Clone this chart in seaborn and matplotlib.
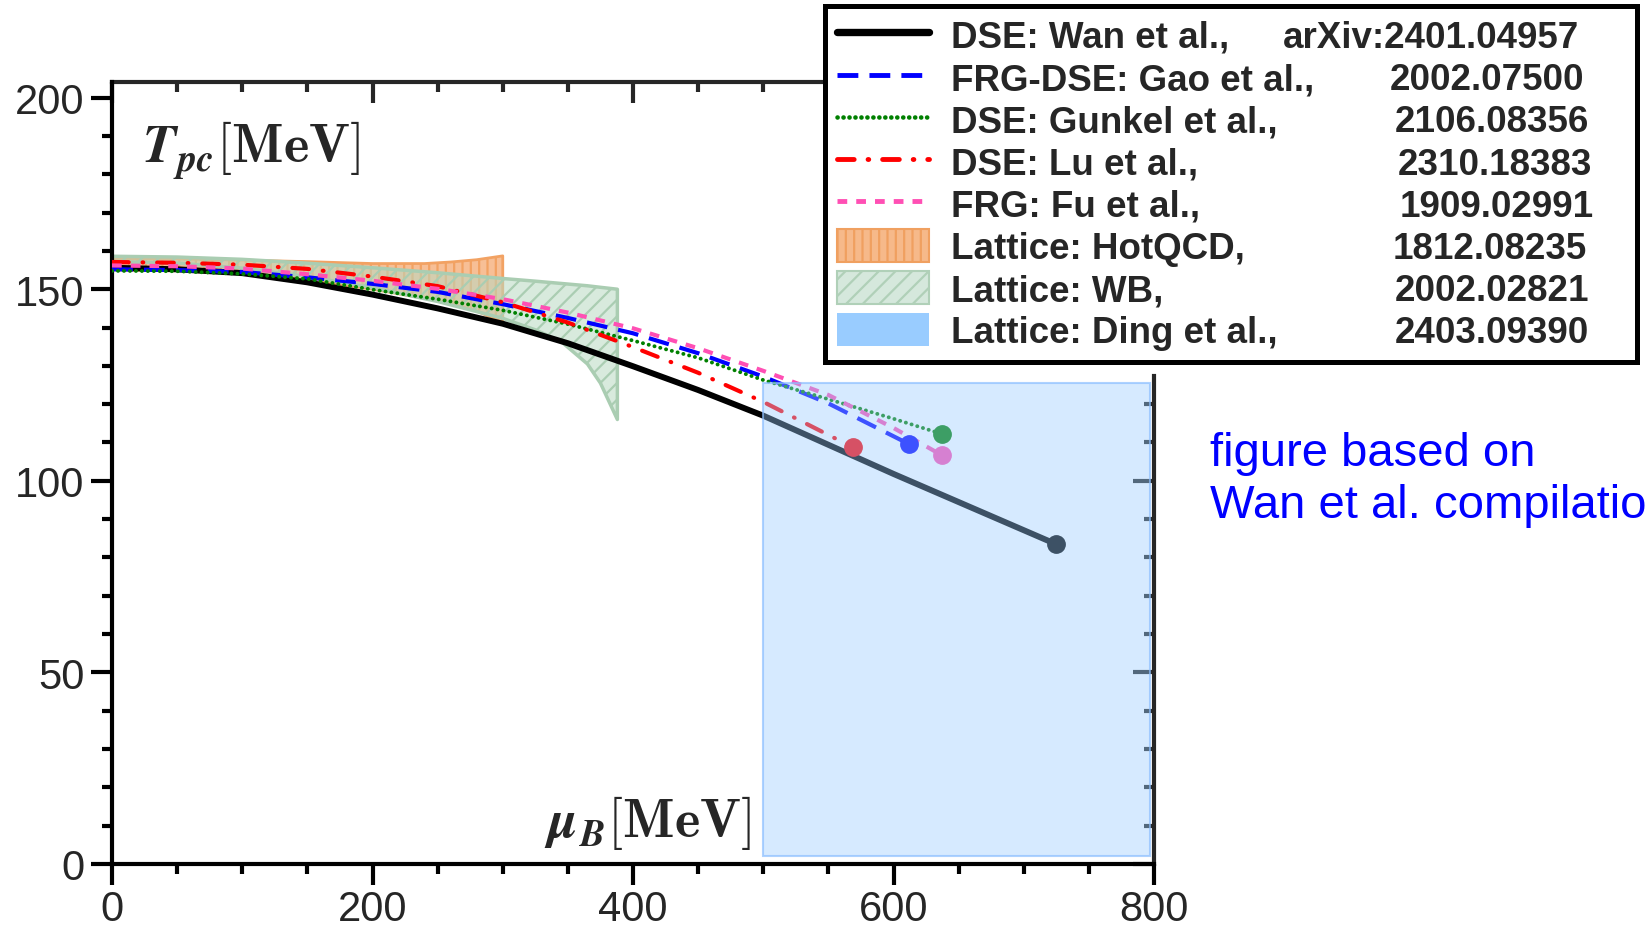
import numpy as np
import pandas as pd
import matplotlib
matplotlib.use("Agg")
import matplotlib.pyplot as plt
import seaborn as sns
from matplotlib.patches import Patch, Rectangle
from matplotlib.lines import Line2D
from matplotlib.ticker import MultipleLocator, FixedLocator
from matplotlib.font_manager import FontProperties

# ---------------- data ----------------
mu_wan = [0, 50, 100, 150, 200, 250, 300, 350, 400, 450, 500, 600, 724.6]
T_wan = [155.6, 155.2, 154.2, 151.8, 148.6, 145.0, 141.0, 135.9, 129.9, 123.7, 117.0, 101.8, 83.5]

mu_gao = [0, 50, 100, 150, 200, 250, 300, 350, 400, 450, 500, 550, 611.8]
T_gao = [155.2, 155.0, 154.5, 153.1, 151.4, 149.3, 146.1, 142.5, 138.5, 133.3, 127.2, 120.2, 109.6]

mu_gunkel = [0, 50, 100, 150, 200, 250, 300, 350, 400, 450, 500, 550, 600, 637.4]
T_gunkel = [154.8, 154.7, 154.0, 152.7, 149.9, 147.4, 144.5, 140.9, 136.6, 132.1, 126.3, 121.3, 116.2, 112.2]

mu_lu = [0, 50, 100, 150, 200, 250, 300, 350, 400, 450, 500, 569]
T_lu = [157.1, 156.9, 156.4, 155.3, 153.3, 150.8, 146.6, 141.3, 134.9, 128.2, 120.6, 108.7]

mu_fu = [0, 50, 100, 150, 200, 250, 300, 350, 400, 450, 500, 550, 600, 637]
T_fu = [156.2, 156.0, 155.4, 153.9, 152.2, 150.1, 147.4, 143.9, 139.8, 134.6, 128.7, 122.4, 113.8, 106.7]

mu_hot = [0, 50, 100, 150, 200, 240, 260, 280, 300]
hot_hi = [158.0, 157.9, 157.6, 157.2, 156.7, 156.7, 157.1, 157.7, 158.7]
hot_lo = [155.0, 154.8, 154.0, 152.4, 150.0, 147.6, 146.3, 144.3, 141.3]

mu_wb = [0, 50, 100, 150, 200, 250, 300, 325, 345, 365, 375, 388]
wb_hi = [158.6, 158.4, 157.8, 156.8, 155.6, 154.3, 152.8, 152.1, 151.5, 150.9, 150.5, 150.0]
wb_lo = [157.2, 156.8, 155.5, 153.3, 150.4, 146.8, 142.4, 139.4, 136.3, 130.5, 125.5, 116.0]

ding_mu = [500, 797]
ding_T = [2, 125.6]

labels = ["DSE: Wan et al.,", "FRG-DSE: Gao et al.,", "DSE: Gunkel et al.,",
          "DSE: Lu et al.,", "FRG: Fu et al.,", "Lattice: HotQCD,",
          "Lattice: WB,", "Lattice: Ding et al.,"]
arxiv = ["arXiv:2401.04957", "2002.07500", "2106.08356", "2310.18383",
         "1909.02991", "1812.08235", "2002.02821", "2403.09390"]
arxiv_x_px = [1283, 1390, 1395, 1398, 1400, 1393, 1395, 1395]

x_ticks = [0, 200, 400, 600, 800]
y_ticks = [0, 50, 100, 150, 200]

# ---------------- style ----------------
sns.set_style("white")
plt.rcParams["font.family"] = ["Liberation Sans", "DejaVu Sans"]
plt.rcParams["mathtext.fontset"] = "cm"
plt.rcParams["lines.scale_dashes"] = False
plt.rcParams["hatch.linewidth"] = 1.6

W, H = 1645, 929
fig = plt.figure(figsize=(W / 100, H / 100), dpi=100)
ax = fig.add_axes([112 / W, 1 - 865 / H, (1154 - 112) / W, (865 - 83.3) / H])
ax.set_xlim(0, 800)
ax.set_ylim(0, 204)

# bands
ax.fill_between(mu_hot, hot_lo, hot_hi, facecolor=(0.95, 0.55, 0.25, 0.55),
                edgecolor="#f2a263", hatch="||", lw=2, zorder=1)
ax.fill_between(mu_wb, wb_lo, wb_hi, facecolor=(0.72, 0.85, 0.76, 0.55),
                edgecolor="#aacdb2", hatch="//", lw=2.5, zorder=1.5)

c_wan, c_gao, c_gun, c_lu, c_fu = "#000000", "#0000ff", "#008000", "#ff0000", "#ff4fb4"

series = [
    (mu_wan, T_wan, c_wan, 4.3, None, "butt"),
    (mu_gao, T_gao, c_gao, 3.0, (15, 8), "butt"),
    (mu_gunkel, T_gunkel, c_gun, 2.8, (0.1, 4.2), "round"),
    (mu_lu, T_lu, c_lu, 3.0, (12, 10, 0.5, 10), "round"),
    (mu_fu, T_fu, c_fu, 3.0, (7, 6.5), "butt"),
]
handles = []
for mu, T, c, lw, dsh, cap in series:
    sns.lineplot(x=mu, y=T, ax=ax, color=c, lw=lw, sort=False, estimator=None, zorder=3)
    ln = ax.lines[-1]
    if dsh is not None:
        ln.set_dashes(dsh)
    ln.set_dash_capstyle(cap)
    ln.set_solid_capstyle("butt")
    ln.set_solid_joinstyle("round")
    ax.plot([mu[-1]], [T[-1]], "o", color=c, ms=12.5, zorder=4)
    h = Line2D([0], [0], color=c, lw=lw + (1 if dsh is None else 0.5))
    if dsh is not None:
        h.set_dashes(dsh)
    h.set_dash_capstyle(cap)
    handles.append(h)

# Ding et al. region (overlaid, semi-transparent)
ax.add_patch(Rectangle((ding_mu[0], ding_T[0]), ding_mu[1] - ding_mu[0], ding_T[1] - ding_T[0],
                       facecolor=(0.6, 0.8, 1.0, 0.4), edgecolor=(0.55, 0.75, 1.0, 0.7),
                       lw=1.5, zorder=5))

handles.append(Patch(facecolor="#f6b98a", edgecolor="#f0a060", hatch="||", lw=1.5))
handles.append(Patch(facecolor="#d5e8dc", edgecolor="#b0d0b8", hatch="//", lw=1.5))
handles.append(Patch(facecolor="#99ccff", edgecolor="none"))

# axes / ticks
for s in ["left", "bottom"]:
    ax.spines[s].set_linewidth(3)
    ax.spines[s].set_color("black")
ax.spines["top"].set_visible(False)
ax.spines["right"].set_visible(False)
ax.set_xticks(x_ticks)
ax.set_yticks(y_ticks)
ax.xaxis.set_minor_locator(MultipleLocator(50))
ax.yaxis.set_minor_locator(MultipleLocator(10))
ax.tick_params(which="both", direction="out", width=3, color="black",
               top=False, right=False, left=True, bottom=True)
ax.tick_params(which="major", length=15, labelsize=30, pad=5)
ax.tick_params(axis="x", which="major", pad=3)
ax.tick_params(which="minor", length=7)
ax.set_xlabel("")
ax.set_ylabel("")

top = ax.secondary_xaxis("top")
top.xaxis.set_major_locator(FixedLocator(x_ticks))
top.xaxis.set_minor_locator(MultipleLocator(50))
top.tick_params(which="both", direction="in", width=3, labeltop=False)
top.tick_params(which="major", length=15)
top.tick_params(which="minor", length=7)
top.spines["top"].set_linewidth(3)

rgt = ax.secondary_yaxis("right")
rgt.yaxis.set_major_locator(FixedLocator([0, 50, 100]))
rgt.yaxis.set_minor_locator(FixedLocator([10, 20, 30, 40, 60, 70, 80, 90, 110, 120]))
rgt.tick_params(which="both", direction="in", width=3, labelright=False)
rgt.tick_params(which="major", length=15)
rgt.tick_params(which="minor", length=7)
rgt.spines["right"].set_linewidth(3)
rgt.spines["right"].set_bounds(0, 127.3)

# in-plot axis titles (bold italic symbols)
t_lab = ax.text(23, 186.5, r"$\mathbfit{T}_{\mathbfit{pc}}[\mathbf{MeV}]$", fontsize=39,
                ha="left", va="center")
m_lab = ax.text(490.8, 11.0, r"$\boldsymbol{\mu}_{\mathbfit{B}}[\mathbf{MeV}]$", fontsize=39,
                ha="right", va="center")
try:
    fig.canvas.draw()
except Exception:
    t_lab.set_text(r"$\boldsymbol{T_{pc}}[\mathbf{MeV}]$")
    m_lab.set_text(r"$\boldsymbol{\mu_{B}}[\mathbf{MeV}]$")

# blue note (runs off the right edge like the reference)
fig.text(1210 / W, 1 - 480 / H, "figure based on\nWan et al. compilation",
         color="#0000ff", fontsize=34, ha="left", va="center", linespacing=1.25)

# legend
fp = FontProperties(family="Liberation Sans", weight="bold", size=26.5)
leg = fig.legend(handles, labels, loc="upper left",
                 bbox_to_anchor=(825 / W, 1 - 357 / H, 812 / W, 350 / H),
                 mode="expand", prop=fp, frameon=True, fancybox=False,
                 framealpha=1, edgecolor="black", facecolor="white",
                 borderaxespad=0, borderpad=0.32, labelspacing=0.14,
                 handlelength=2.5, handleheight=1.0, handletextpad=0.6)
leg.get_frame().set_linewidth(3.6)

fig.canvas.draw()
inv = fig.transFigure.inverted()
for t, num, xp in zip(leg.get_texts(), arxiv, arxiv_x_px):
    bb = t.get_window_extent()
    yc = (bb.y0 + bb.y1) / 2
    fx, fy = inv.transform((xp, yc))
    fig.text(fx, fy, num, fontproperties=fp, ha="left", va="center", zorder=10)

fig.savefig("out.png", dpi=100)
